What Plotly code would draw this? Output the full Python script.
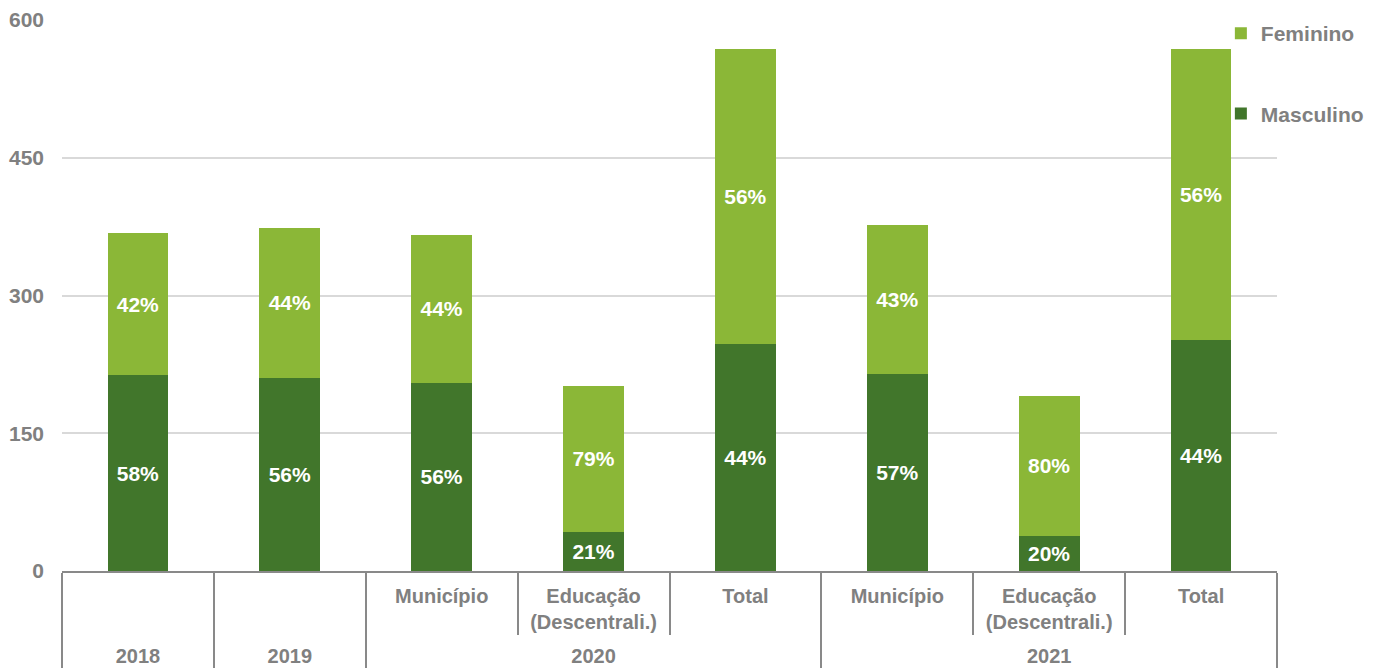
import plotly.graph_objects as go

# categories (two-level axis)
years = ["2018", "2019", "2020", "2020", "2020", "2021", "2021", "2021"]
# the blank labels carry a tall space so the year row sits lower, as in the original
blank = "<span style='font-size:38px'>\u00a0</span>"
groups = [blank, blank + " ", "Município", "Educação<br>(Descentrali.)", "Total",
          "Município", "Educação<br>(Descentrali.)", "Total"]

# series values
masculino = [213, 210, 205, 42, 247, 214, 38, 252]
feminino = [155, 164, 161, 160, 321, 163, 153, 316]

# percentage labels as printed on the bars
masc_pct = ["58%", "56%", "56%", "21%", "44%", "57%", "20%", "44%"]
fem_pct = ["42%", "44%", "44%", "79%", "56%", "43%", "80%", "56%"]

dark_green = "#41762B"
light_green = "#8BB737"
grey = "#808080"
fnt = "Liberation Sans"

fig = go.Figure()
fig.add_trace(go.Bar(
    x=[years, groups], y=masculino, name="Masculino",
    legendgroup="m", legendrank=2,
    marker=dict(color=dark_green, line=dict(width=0)),
    text=masc_pct, textposition="inside", insidetextanchor="middle",
    textangle=0,
    textfont=dict(color="white", size=21, family=fnt, weight="bold"),
))
fig.add_trace(go.Bar(
    x=[years, groups], y=feminino, name="Feminino",
    legendgroup="f", legendrank=1,
    marker=dict(color=light_green, line=dict(width=0)),
    text=fem_pct, textposition="inside", insidetextanchor="middle",
    textangle=0,
    textfont=dict(color="white", size=21, family=fnt, weight="bold"),
))

# the page has an 8px body margin, so the figure is sized to fit the window
fig.update_layout(
    barmode="stack",
    bargap=0.6,
    width=1370, height=660,
    margin=dict(l=54, r=101, t=12, b=97, autoexpand=False),
    paper_bgcolor="white", plot_bgcolor="white",
    font=dict(family=fnt, size=21, color=grey, weight="bold"),
    showlegend=True,
    legend=dict(
        x=0.9538, xanchor="left", y=1.0127, yanchor="top",
        traceorder="grouped", tracegroupgap=50,
        font=dict(size=21, color=grey, family=fnt, weight="bold"),
        bgcolor="rgba(0,0,0,0)",
    ),
    uniformtext=dict(minsize=21, mode="show"),
)

fig.update_yaxes(
    range=[0, 600], tickvals=[0, 150, 300, 450, 600],
    showgrid=True, gridcolor="#D9D9D9", gridwidth=2,
    zeroline=False, showline=False, ticks="",
    ticklabelstandoff=17,
    tickfont=dict(size=21, color=grey, family=fnt, weight="bold"),
    automargin=False,
)
fig.update_xaxes(
    type="multicategory",
    showline=True, linecolor="#898989", linewidth=2,
    showgrid=False,
    ticks="outside", tickson="boundaries", ticklen=62,
    tickcolor="#898989", tickwidth=2,
    showdividers=True, dividercolor="#898989", dividerwidth=2,
    ticklabelstandoff=6,
    tickfont=dict(size=20, color=grey, family=fnt, weight="bold"),
    automargin=False,
)

fig.write_html("out.html")
